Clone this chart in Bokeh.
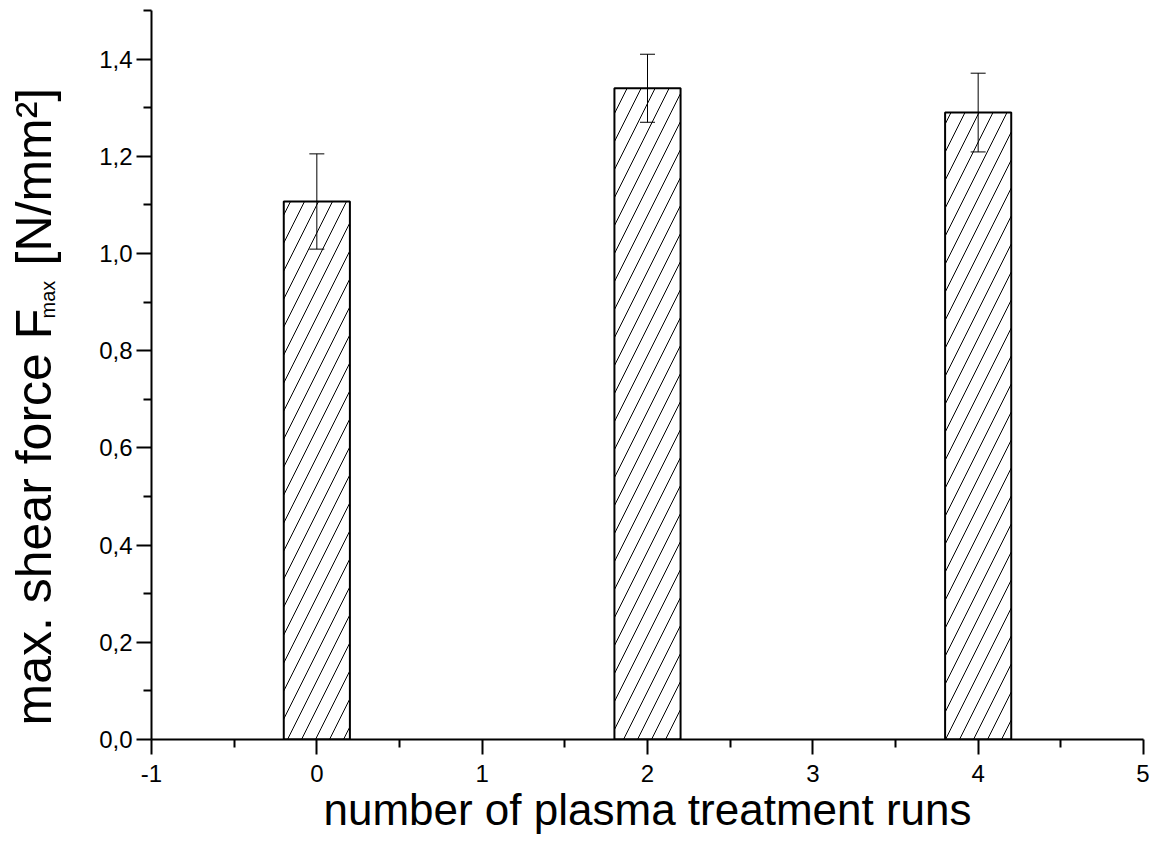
import math
from bokeh.plotting import figure
from bokeh.layouts import row
from bokeh.models import (ColumnDataSource, Whisker, TeeHead, FixedTicker,
                          CustomJSTickFormatter, Range1d)
from bokeh.core.properties import value
from bokeh.embed import file_html
from bokeh.resources import INLINE

# ---- data ----
runs = [0, 2, 4]
shear_force = [1.107, 1.340, 1.290]
error = [0.098, 0.070, 0.081]

x_ticks = [-1, 0, 1, 2, 3, 4, 5]
x_minor = [-0.5, 0.5, 1.5, 2.5, 3.5, 4.5]
y_ticks = [0.0, 0.2, 0.4, 0.6, 0.8, 1.0, 1.2, 1.4]
y_minor = [0.1, 0.3, 0.5, 0.7, 0.9, 1.1, 1.3, 1.5]

x_label = "number of plasma treatment runs"
y_label_main = "max. shear force F"
y_label_sub = "max"
y_label_unit = "[N/mm²]"

FONT = "Liberation Sans"
LW = 75          # strip holding the y-axis title
TOP, FH, BOT = 10, 729, 117

src = ColumnDataSource(dict(
    x=runs, top=shear_force,
    upper=[v + e for v, e in zip(shear_force, error)],
    lower=[v - e for v, e in zip(shear_force, error)],
))

p = figure(frame_width=992, frame_height=FH, output_backend="svg", toolbar_location=None,
           x_range=Range1d(-1, 5), y_range=Range1d(0, 1.5),
           min_border_left=151 - LW, min_border_right=6, min_border_top=TOP,
           min_border_bottom=BOT)
p.outline_line_color = None
p.xgrid.visible = False
p.ygrid.visible = False

p.vbar(x="x", top="top", width=0.4, bottom=0, source=src,
       fill_color="white", line_color="black", line_width=2,
       hatch_pattern="/", hatch_color="black", hatch_weight=1, hatch_scale=28)

w = Whisker(source=src, base="x", upper="upper", lower="lower",
            line_color="black", line_width=1, level="overlay",
            upper_head=TeeHead(size=15, line_color="black", line_width=1),
            lower_head=TeeHead(size=15, line_color="black", line_width=1))
p.add_layout(w)

for ax in (p.xaxis[0], p.yaxis[0]):
    ax.axis_line_width = 2
    ax.major_tick_line_width = 2
    ax.minor_tick_line_width = 2
    ax.major_tick_out = 15
    ax.major_tick_in = 0
    ax.minor_tick_out = 8
    ax.minor_tick_in = 0
    ax.major_label_text_font = FONT
    ax.major_label_text_font_size = "24px"
    ax.major_label_text_color = "black"

p.xaxis.ticker = FixedTicker(ticks=x_ticks, minor_ticks=x_minor)
p.yaxis.ticker = FixedTicker(ticks=y_ticks, minor_ticks=y_minor)
p.yaxis.formatter = CustomJSTickFormatter(code="return tick.toFixed(1).replace('.', ',');")
p.xaxis.formatter = CustomJSTickFormatter(code="return tick.toFixed(0);")
p.xaxis.major_label_standoff = 10
p.yaxis.major_label_standoff = 4

p.xaxis.axis_label = x_label
p.xaxis.axis_label_text_font = FONT
p.xaxis.axis_label_text_font_size = "44px"
p.xaxis.axis_label_text_font_style = "normal"
p.xaxis.axis_label_text_color = "black"
p.xaxis.axis_label_standoff = 0

# ---- strip with the y-axis title; x = canvas px, y = px above frame bottom ----
lab = figure(frame_width=LW, frame_height=FH, output_backend="svg", toolbar_location=None,
             x_range=Range1d(0, LW), y_range=Range1d(0, FH),
             x_axis_location=None, y_axis_location=None,
             min_border_left=0, min_border_right=0, min_border_top=TOP,
             min_border_bottom=BOT)
lab.outline_line_color = None
lab.xgrid.visible = False
lab.ygrid.visible = False

FB = TOP + FH  # canvas y of frame bottom
YF = "50px"
lab.text(x=[33], y=[FB - 725], text=[y_label_main], angle=math.pi / 2,
         text_align="left", text_baseline="alphabetic",
         text_font=value(FONT), text_font_size=YF, text_color="black")
lab.text(x=[47], y=[FB - 318], text=[y_label_sub], angle=math.pi / 2,
         text_align="left", text_baseline="alphabetic",
         text_font=value(FONT), text_font_size="20px", text_color="black")
lab.text(x=[33], y=[FB - 265], text=[y_label_unit], angle=math.pi / 2,
         text_align="left", text_baseline="alphabetic",
         text_font=value(FONT), text_font_size=YF, text_color="black")

layout = row(lab, p, spacing=0)
open("out.html", "w").write(file_html(layout, INLINE))
